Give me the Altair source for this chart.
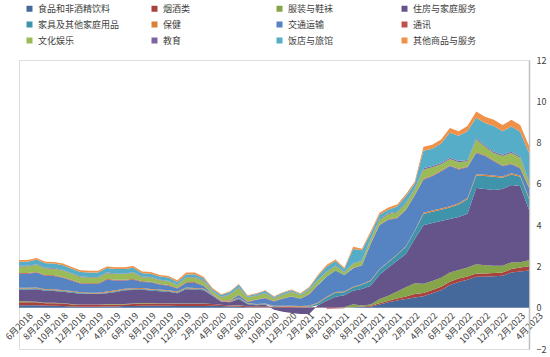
import altair as alt
import pandas as pd

series = ["食品和非酒精饮料", "烟酒类", "服装与鞋袜", "住房与家庭服务",
          "家具及其他家庭用品", "保健", "交通运输", "通讯",
          "文化娱乐", "教育", "饭店与旅馆", "其他商品与服务"]
colors = ["#46699C", "#A8423F", "#86A44A", "#65548A",
          "#3F93AB", "#DA8137", "#5683C2", "#C0504D",
          "#9BBB59", "#7E63A0", "#56ADC8", "#F0914A"]

months = []
y, m = 2018, 6
while (y, m) <= (2023, 4):
    months.append(f"{m}月{y}")
    m += 1
    if m > 12:
        m = 1
        y += 1
tick_labels = months[::2]

food = [0.12,0.12,0.12,0.1,0.1,0.08,0.06,0.05,0.05,0.05,0.06,0.06,0.08,0.08,0.1,0.1,0.1,0.1,0.08,
        0.08,0.08,0.08,0.1,0.08,0.06,0.05,0.02,0.02,0.02,0.0,0.0,0.0,0.0,0.0,
        0.0,
        0.0,0.0,0.0,0.02,0.03,0.05,0.15,0.26,0.35,0.42,0.5,
        0.55,0.7,0.85,1.1,1.25,1.35,1.5,1.5,1.52,1.55,1.7,1.75,1.8]
alcohol = [0.15,0.15,0.15,0.12,0.12,0.12,0.1,0.1,0.1,0.1,0.1,0.1,0.08,0.1,0.1,0.1,0.1,0.1,0.1,
           0.1,0.1,0.1,0.08,0.06,0.05,0.05,0.05,0.05,0.05,0.04,0.03,0.03,0.02,0.02,
           0.02,
           0.0,0.0,0.0,0.0,0.03,0.05,0.07,0.08,0.1,0.12,0.16,
           0.16,0.16,0.16,0.16,0.16,0.16,0.16,0.16,0.16,0.16,0.17,0.2,0.21]
clothing = [0.06,0.03,0.02,0.02,0.02,0.02,0.02,0.01,0.01,0.01,0.02,0.02,0.02,0.02,0.03,0.03,0.02,0.02,0.02,
            0.02,0.02,0.02,0.0,0.0,0.0,0.02,0.0,0.0,0.0,0.0,0.0,0.0,0.0,0.0,
            0.0,
            0.0,0.0,0.02,0.15,0.05,0.05,0.2,0.24,0.33,0.45,0.52,
            0.45,0.44,0.44,0.44,0.42,0.44,0.44,0.4,0.35,0.32,0.33,0.25,0.29]
housing = [0.55,0.58,0.6,0.58,0.57,0.55,0.55,0.52,0.5,0.5,0.52,0.58,0.66,0.66,0.64,0.6,0.58,0.55,0.5,
           0.7,0.68,0.65,0.4,0.15,0.15,0.3,0.1,0.05,0.08,-0.1,-0.2,-0.25,-0.3,-0.3,
           0.1,
           0.34,0.53,0.58,0.65,0.8,0.91,1.18,1.37,1.49,1.61,2.15,
           2.84,2.8,2.75,2.6,2.57,2.6,3.7,3.69,3.67,3.72,3.75,3.7,2.45]
furniture = [0.05,0.05,0.05,0.04,0.04,0.04,0.04,0.03,0.03,0.03,0.04,0.04,0.04,0.04,0.04,0.04,0.04,0.04,0.04,
             0.04,0.04,0.04,0.03,0.02,0.03,0.05,0.03,0.03,0.03,0.03,0.03,0.03,0.03,0.04,
             0.1,
             0.16,0.2,0.15,0.16,0.2,0.24,0.25,0.25,0.28,0.35,0.37,
             0.54,0.55,0.55,0.55,0.6,0.7,0.6,0.63,0.65,0.55,0.5,0.45,0.5]
health = [0.04]*19 + [0.04,0.04,0.04] + [0.03]*12 + [0.03] + [0.03]*11 + [0.06]*13
transport = [0.68,0.68,0.72,0.65,0.65,0.6,0.5,0.42,0.42,0.42,0.58,0.48,0.4,0.42,0.3,0.32,0.24,0.22,0.15,
             0.22,0.25,0.12,0.02,0.0,0.02,0.12,0.05,0.2,0.25,0.2,0.35,0.45,0.35,0.55,
             0.85,
             0.98,1.04,0.81,0.9,0.9,1.77,2.11,2.03,1.75,1.75,1.7,
             1.6,1.66,1.79,1.95,1.64,1.49,1.04,0.91,0.69,0.5,0.44,0.34,0.49]
communication = [0.03]*19 + [0.03,0.03,0.03] + [0.02]*12 + [0.02] + \
                [-0.05,-0.04,-0.03,0.02,0.02,0.02,0.03,0.03,0.03,0.03,0.03] + [0.03]*13
recreation = [0.32,0.32,0.35,0.32,0.32,0.32,0.3,0.28,0.28,0.28,0.28,0.28,0.28,0.3,0.2,0.2,0.18,0.18,0.14,
              0.23,0.22,0.22,0.12,0.15,0.28,0.33,0.2,0.18,0.22,0.13,0.17,0.2,0.15,0.2,
              0.22,
              0.22,0.22,0.12,0.2,0.2,0.2,0.22,0.25,0.25,0.3,0.25,
              0.47,0.4,0.32,0.31,0.32,0.27,0.62,0.42,0.37,0.46,0.52,0.48,0.25]
education = [0.03]*19 + [0.03,0.03,0.03] + [0.02]*12 + [0.02] + \
            [0.02,0.02,0.02,0.02,0.02,0.03,0.04,0.04,0.04,0.04,0.04] + [0.06]*13
restaurants = [0.2,0.2,0.22,0.22,0.22,0.23,0.22,0.22,0.22,0.22,0.22,0.22,0.22,0.22,0.16,0.16,0.15,0.15,0.12,
               0.12,0.13,0.1,0.08,0.08,0.1,0.12,0.05,0.07,0.1,0.05,0.07,0.07,0.05,0.08,
               0.18,
               0.25,0.22,0.15,0.7,0.5,0.25,0.22,0.17,0.25,0.3,0.25,
               0.84,0.84,0.94,1.22,1.22,1.39,0.99,1.09,1.24,1.14,1.22,1.21,1.35]
other = [0.08]*19 + [0.09,0.08,0.07,0.05,0.04,0.04,0.04,0.03,0.03,0.03,0.03,0.03,0.03,0.03,0.04] + [0.06] + \
        [0.08,0.08,0.05,0.1,0.08,0.1,0.1,0.1,0.1,0.1,0.1] + \
        [0.2,0.2,0.2,0.22,0.22,0.25,0.3,0.3,0.3,0.3,0.32,0.32,0.35]

values = [food, alcohol, clothing, housing, furniture, health, transport,
          communication, recreation, education, restaurants, other]

rows = []
for k, (name, vals) in enumerate(zip(series, values)):
    for i, v in enumerate(vals):
        rows.append({"month": months[i], "series": name, "idx": k, "value": v})
df = pd.DataFrame(rows)

chart = alt.Chart(df).mark_area(opacity=1).encode(
    x=alt.X("month:O", sort=months, scale=alt.Scale(padding=0),
            axis=alt.Axis(values=tick_labels, labelAngle=-45, labelFontSize=9,
                          labelColor="#404040", labelFont="Noto Sans CJK SC",
                          domain=False, ticks=False, grid=False, offset=-42,
                          labelPadding=4, labelOffset=9, labelOverlap=False,
                          title=None)),
    y=alt.Y("value:Q", stack="zero",
            scale=alt.Scale(domain=[-2, 12], nice=False),
            axis=alt.Axis(orient="right", values=list(range(-2, 13, 2)),
                          labelFontSize=9, labelColor="#404040",
                          labelFont="Noto Sans CJK SC",
                          domainColor="#BFBFBF", domainWidth=1.5,
                          ticks=False, grid=False, labelPadding=7, title=None)),
    color=alt.Color("series:N", sort=series,
                    scale=alt.Scale(domain=series, range=colors),
                    legend=alt.Legend(title=None, orient="none", legendX=6, legendY=-56,
                                      direction="horizontal", columns=4,
                                      symbolType="square", symbolSize=36,
                                      symbolStrokeWidth=0,
                                      labelFontSize=9, labelFont="Noto Sans CJK SC",
                                      labelColor="#404040", columnPadding=30,
                                      rowPadding=6, gridAlign="all", labelLimit=120)),
    order=alt.Order("idx:Q", sort="ascending"),
).properties(
    width=510, height=289,
    autosize=alt.AutoSizeParams(type="none"),
    padding={"left": 19, "top": 60, "right": 21, "bottom": 8},
).configure_view(stroke=None).configure(background="white")

chart.save("out.html", embed_options={"renderer": "svg", "actions": False})
